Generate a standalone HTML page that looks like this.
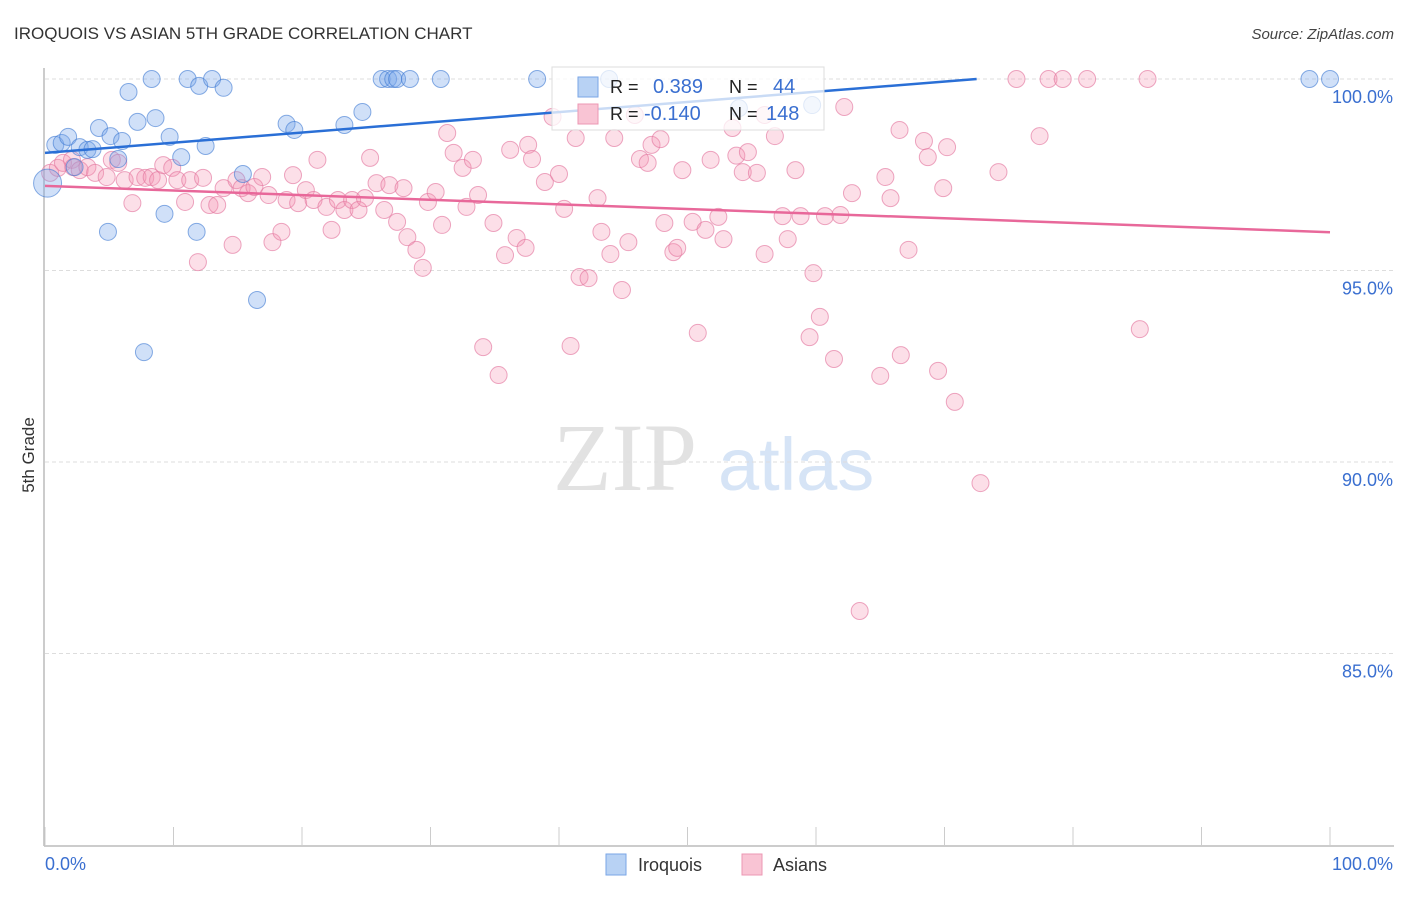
<!DOCTYPE html>
<html><head><meta charset="utf-8"><style>
body{margin:0;background:#fff;width:1406px;height:892px;overflow:hidden;font-family:"Liberation Sans",sans-serif;}
</style></head><body>
<svg id="chart" width="1406" height="892" viewBox="0 0 1406 892" xmlns="http://www.w3.org/2000/svg" font-family="Liberation Sans, sans-serif">
<text x="14" y="39" font-size="17" fill="#333">IROQUOIS VS ASIAN 5TH GRADE CORRELATION CHART</text>
<text x="1394" y="39" font-size="15" font-style="italic" fill="#444" text-anchor="end">Source: ZipAtlas.com</text>
<g>
<text x="553" y="490" font-family="Liberation Serif, serif" font-size="96" fill="#e2e2e2">ZIP</text>
<text x="718" y="490" font-size="74" fill="#d6e4f6">atlas</text>
</g>
<g id="grid"></g>
<g id="axes"></g>
<g id="pink"></g>
<g id="blue"></g>
<g id="trends"></g>
<text transform="translate(34,455) rotate(-90)" font-size="17" fill="#333" text-anchor="middle">5th Grade</text>
<g>
<rect x="552" y="67" width="272" height="63" fill="#fff" fill-opacity="0.75" stroke="#ddd"/>
<rect x="578" y="77" width="20" height="20" fill="#b8d2f4" stroke="#7aa6e6"/>
<rect x="578" y="104" width="20" height="20" fill="#f9c4d4" stroke="#ec97b3"/>
<text x="610" y="93" font-size="18" fill="#222">R =</text>
<text x="653" y="93" font-size="20" fill="#3a6fd0">0.389</text>
<text x="729" y="93" font-size="18" fill="#222">N =</text>
<text x="773" y="93" font-size="20" fill="#3a6fd0">44</text>
<text x="610" y="120" font-size="18" fill="#222">R =</text>
<text x="644" y="120" font-size="20" fill="#3a6fd0">-0.140</text>
<text x="729" y="120" font-size="18" fill="#222">N =</text>
<text x="766" y="120" font-size="20" fill="#3a6fd0">148</text>
</g>
<g>
<rect x="606" y="854" width="20" height="21" fill="#b8d2f4" stroke="#7aa6e6"/>
<text x="638" y="871" font-size="18" fill="#333">Iroquois</text>
<rect x="742" y="854" width="20" height="21" fill="#f9c4d4" stroke="#ec97b3"/>
<text x="773" y="871" font-size="18" fill="#333">Asians</text>
</g>
</svg>
<script>
const yTicks=[100,95,90,85];
const yTickLabels=["100.0%","95.0%","90.0%","85.0%"];
const xTickValues=[0,10,20,30,40,50,60,70,80,90,100];
const xEndLabels=["0.0%","100.0%"];
const blueX=[0.2,0.8,1.3,1.8,2.3,2.7,3.3,3.7,4.2,4.9,5.1,5.7,6.0,6.5,7.2,7.7,8.3,8.6,9.3,9.7,10.6,11.1,11.8,12.0,12.5,13.0,13.9,15.4,16.5,18.8,19.4,23.3,24.7,26.2,26.7,27.1,27.4,28.4,30.8,38.3,43.9,54.0,59.7,98.4,100];
const blueY=[97.28,98.28,98.33,98.49,97.70,98.22,98.15,98.17,98.72,96.01,98.51,97.91,98.38,99.66,98.88,92.87,100,98.98,96.48,98.49,97.96,100,96.01,99.82,98.25,100,99.77,97.52,94.23,98.83,98.67,98.80,99.14,100,100,100,100,100,100,100,100,99.24,99.32,100,100];
const pinkX=[0.4,1.0,1.4,2.1,2.2,2.7,3.3,3.9,4.8,5.2,5.7,6.2,6.8,7.2,7.8,8.3,8.8,9.2,9.9,10.3,10.9,11.3,11.9,12.3,12.8,13.4,13.9,14.6,14.9,15.3,15.8,16.3,16.9,17.4,17.7,18.4,18.8,19.3,19.7,20.3,20.9,21.2,21.9,22.3,22.8,23.3,23.9,24.4,24.9,25.3,25.8,26.4,26.8,27.4,27.9,28.2,28.9,29.4,29.8,30.4,30.9,31.3,31.8,32.5,32.8,33.3,33.7,34.9,35.8,36.2,36.7,37.4,37.6,
39.5,45.9,56.0,62.2,37.9,38.9,40.0,41.3,43.0,40.4,43.3,44.0,45.4,44.3,46.3,46.9,47.2,47.9,48.2,48.9,49.2,49.6,50.4,51.4,51.8,52.4,52.8,53.5,53.8,54.3,54.7,55.4,56.8,57.4,57.8,58.4,58.8,59.8,60.7,61.9,62.8,65.4,65.8,66.5,67.2,68.4,68.7,69.9,70.2,74.2,
56.0,41.6,42.3,44.9,60.3,50.8,59.5,34.1,40.9,61.4,35.3,66.6,65.0,69.5,70.8,72.8,63.4,
75.6,78.1,79.2,81.1,85.8,77.4,85.2];
const pinkY=[97.55,97.68,97.81,97.89,97.70,97.62,97.70,97.55,97.44,97.89,97.81,97.36,96.76,97.44,97.42,97.44,97.36,97.75,97.68,97.36,96.79,97.36,95.22,97.42,96.71,96.71,97.15,95.67,97.36,97.15,97.02,97.18,97.44,96.97,95.74,96.01,96.84,97.49,96.76,97.10,96.84,97.89,96.66,96.06,96.84,96.58,96.84,96.58,96.89,97.94,97.28,96.58,97.23,96.27,97.15,95.87,95.54,95.07,96.79,97.05,96.19,98.59,98.07,97.68,96.66,97.89,96.97,96.24,95.40,98.15,95.85,95.59,98.28,
99.01,99.06,99.06,99.27,97.91,97.31,97.52,98.46,96.89,96.61,96.01,95.43,95.74,98.46,97.91,97.81,98.28,98.43,96.24,95.48,95.59,97.62,96.27,96.06,97.89,96.40,95.82,98.72,98.00,97.57,98.09,97.55,98.51,96.42,95.82,97.62,96.42,94.93,96.42,96.45,97.02,97.44,96.89,98.67,95.54,98.38,97.96,97.15,98.22,97.57,
95.43,94.83,94.80,94.49,93.79,93.37,93.26,93.00,93.03,92.69,92.27,92.79,92.25,92.38,91.57,89.45,86.11,
100,100,100,100,100,98.51,93.47];
const blueTrend=[[0,98.07],[72.5,100]];
const pinkTrend=[[0,97.21],[100,96.0]];

const X0=45,X1=1330,YTOP=79,PXPER=38.3;
function sx(v){return X0+(X1-X0)*v/100;}
function sy(v){return YTOP+(100-v)*PXPER;}
const NS="http://www.w3.org/2000/svg";
function mk(tag,attrs,parent){const e=document.createElementNS(NS,tag);for(const k in attrs)e.setAttribute(k,attrs[k]);parent.appendChild(e);return e;}
const grid=document.getElementById('grid'),axes=document.getElementById('axes');
yTicks.forEach((t,i)=>{
  const l=mk('line',{x1:45,x2:1394,y1:sy(t),y2:sy(t),stroke:'#ddd','stroke-dasharray':'4 3'},grid);
  
  
  const tx=mk('text',{x:1393,y:sy(t)+24,'font-size':18,fill:'#3a6fd0','text-anchor':'end'},grid);
  tx.textContent=yTickLabels[i];
  
  
});
const ya=mk('line',{x1:44,x2:44,y1:68,y2:846,stroke:'#bbb','stroke-width':1.5},axes);


const xa=mk('line',{x1:44,x2:1394,y1:846,y2:846,stroke:'#bbb','stroke-width':1.5},axes);


xTickValues.forEach(v=>{
  const t=mk('line',{x1:sx(v),x2:sx(v),y1:827,y2:846,stroke:'#ccc'},axes);
  
  
});
const xl0=mk('text',{x:45,y:870,'font-size':18,fill:'#3a6fd0'},axes);xl0.textContent=xEndLabels[0];


const xl1=mk('text',{x:1393,y:870,'font-size':18,fill:'#3a6fd0','text-anchor':'end'},axes);xl1.textContent=xEndLabels[1];


const pg=document.getElementById('pink');
pinkX.forEach((x,i)=>{
  const c=mk('circle',{cx:sx(x),cy:sy(pinkY[i]),r:8.5,fill:'rgba(244,150,180,0.3)',stroke:'rgba(228,120,160,0.65)','stroke-width':1},pg);
  
  
});
const bg=document.getElementById('blue');
blueX.forEach((x,i)=>{
  const c=mk('circle',{cx:sx(x),cy:sy(blueY[i]),r:i===0?14:8.5,fill:'rgba(120,165,235,0.35)',stroke:'rgba(60,120,210,0.6)','stroke-width':1},bg);
  
  
});
const tg=document.getElementById('trends');
const bt=mk('line',{x1:sx(blueTrend[0][0]),y1:sy(blueTrend[0][1]),x2:sx(blueTrend[1][0]),y2:sy(blueTrend[1][1]),stroke:'#2a6fd6','stroke-width':2.5},tg);


const pt=mk('line',{x1:sx(pinkTrend[0][0]),y1:sy(pinkTrend[0][1]),x2:sx(pinkTrend[1][0]),y2:sy(pinkTrend[1][1]),stroke:'#e8689a','stroke-width':2.5},tg);


</script>
</body></html>
